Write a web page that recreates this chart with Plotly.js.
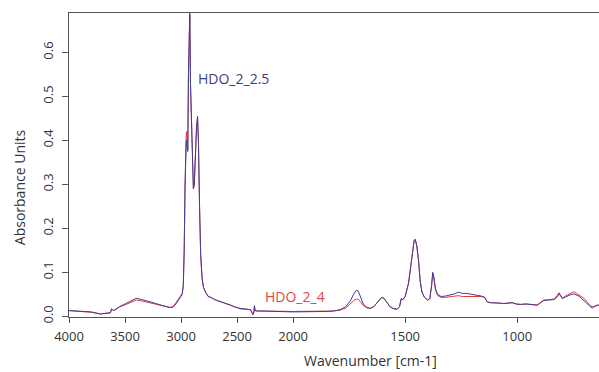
<!DOCTYPE html>
<html><head><meta charset="utf-8">
<script src="https://cdn.plot.ly/plotly-3.0.1.min.js"></script>
<style>html,body{margin:0;padding:0;background:#fff}#chart{width:599px;height:372px}</style>
</head><body><div id="chart"></div>
<script>
// Wavenumbers (cm-1), descending
const wavenumber = [4000,3950,3900,3850,3800,3750,3720,3700,3660,3630,3620,3605,3580,3550,3500,3450,3400,3350,3300,3250,3200,3150,3100,3070,3040,3010,2990,2980,2972,2965,2958,2952,2946,2940,2934,2928,2922,2916,2908,2898,2890,2882,2872,2862,2853,2845,2835,2825,2812,2800,2780,2757,2735,2720,2713,2690,2653,2600,2564,2520,2474,2420,2380,2365,2358,2350,2345,2340,2320,2280,2200,2100,2000,
1950,1900,1850,1820,1790,1765,1745,1730,1718,1710,1700,1686,1670,1656,1640,1620,1605,1595,1580,1566,1550,1536,1525,1518,1510,1500,1485,1475,1467,1460,1455,1448,1440,1433,1425,1415,1400,1390,1382,1377,1372,1365,1355,1340,1320,1300,1280,1262,1245,1225,1200,1180,1160,1145,1134,1120,1100,1080,1060,1040,1022,1005,985,960,940,925,911,895,881,860,836,822,814,806,799,785,770,757,747,735,725,712,702,690,675,665,655,642,635];
// HDO_2_2.5 (blue)
const hdo_2_2_5 = [0.013,0.012,0.012,0.011,0.010,0.007,0.005,0.006,0.007,0.008,0.017,0.013,0.016,0.022,0.028,0.035,0.041,0.038,0.035,0.031,0.027,0.024,0.020,0.021,0.030,0.042,0.050,0.07,0.15,0.30,0.38,0.40,0.385,0.375,0.55,0.65,0.695,0.53,0.45,0.35,0.29,0.30,0.38,0.43,0.455,0.40,0.25,0.14,0.085,0.066,0.054,0.045,0.043,0.042,0.040,0.037,0.033,0.029,0.026,0.021,0.018,0.016,0.015,0.007,0.004,0.010,0.024,0.013,0.012,0.012,0.011,0.010,0.010,
0.010,0.010,0.011,0.012,0.015,0.022,0.035,0.050,0.059,0.058,0.045,0.027,0.020,0.018,0.022,0.034,0.043,0.041,0.030,0.021,0.017,0.016,0.022,0.040,0.038,0.045,0.075,0.115,0.150,0.172,0.175,0.16,0.125,0.080,0.055,0.044,0.037,0.040,0.070,0.100,0.090,0.063,0.050,0.045,0.046,0.048,0.051,0.055,0.052,0.052,0.050,0.048,0.046,0.043,0.033,0.031,0.031,0.030,0.029,0.030,0.031,0.028,0.027,0.028,0.027,0.025,0.025,0.031,0.036,0.037,0.038,0.044,0.051,0.046,0.040,0.044,0.048,0.050,0.051,0.049,0.046,0.040,0.036,0.030,0.022,0.019,0.022,0.026,0.025];
// HDO_2_4 (red)
const hdo_2_4 = [0.013,0.012,0.011,0.011,0.009,0.007,0.005,0.006,0.007,0.008,0.017,0.013,0.016,0.021,0.026,0.032,0.037,0.035,0.032,0.028,0.025,0.022,0.020,0.022,0.032,0.044,0.052,0.07,0.15,0.30,0.39,0.42,0.40,0.38,0.55,0.645,0.685,0.53,0.45,0.35,0.29,0.30,0.38,0.43,0.45,0.40,0.25,0.14,0.085,0.066,0.054,0.045,0.043,0.042,0.040,0.037,0.033,0.029,0.026,0.021,0.017,0.016,0.015,0.007,0.004,0.010,0.024,0.013,0.012,0.012,0.012,0.011,0.011,
0.011,0.011,0.012,0.012,0.014,0.019,0.028,0.036,0.039,0.039,0.033,0.024,0.019,0.018,0.022,0.034,0.043,0.041,0.030,0.021,0.017,0.016,0.022,0.040,0.038,0.045,0.075,0.115,0.150,0.172,0.175,0.16,0.125,0.080,0.055,0.044,0.037,0.040,0.070,0.098,0.088,0.060,0.047,0.043,0.043,0.044,0.045,0.047,0.045,0.045,0.045,0.045,0.045,0.043,0.033,0.031,0.031,0.030,0.029,0.030,0.031,0.028,0.027,0.028,0.027,0.025,0.026,0.032,0.037,0.038,0.039,0.047,0.054,0.048,0.041,0.046,0.050,0.053,0.056,0.052,0.049,0.044,0.041,0.034,0.025,0.022,0.023,0.026,0.025];
const xTicksHigh = [4000,3500,3000,2500,2000];
const xTicksLow = [1500,1000];
const yTicks = [0.0,0.1,0.2,0.3,0.4,0.5,0.6];

const BLUE = '#3d3f98', RED = '#e8393f';
const FONT = 'Open Sans, Lato, sans-serif';
function seg(vals, hi){
  const x=[], y=[];
  wavenumber.forEach((w,i)=>{ if(hi ? w>=2000 : w<=2000){ x.push(w); y.push(vals[i]); } });
  return {x, y};
}
const traces = [];
[[hdo_2_4, RED],[hdo_2_2_5, BLUE]].forEach(([vals,col])=>{
  const a = seg(vals,true), b = seg(vals,false);
  traces.push({x:a.x,y:a.y,xaxis:'x',yaxis:'y',mode:'lines',line:{color:col,width:1},hoverinfo:'skip'});
  traces.push({x:b.x,y:b.y,xaxis:'x2',yaxis:'y',mode:'lines',line:{color:col,width:1},hoverinfo:'skip'});
});
const split = 224/529.7;
const axCommon = {showgrid:false, zeroline:false, showline:true, linecolor:'#555', linewidth:1, mirror:true,
  ticks:'outside', ticklen:5, tickcolor:'#555', tickfont:{family:FONT,size:13,color:'#333'}, ticklabelstandoff:2};
const layout = {
  width:599, height:372, margin:{l:69,r:0,t:13,b:55}, showlegend:false,
  paper_bgcolor:'#fff', plot_bgcolor:'#fff',
  xaxis: Object.assign({}, axCommon, {domain:[0,split], range:[4000,2000], tickmode:'array', tickvals:xTicksHigh, ticktext:xTicksHigh.map(String), anchor:'y'}),
  xaxis2: Object.assign({}, axCommon, {domain:[split,1], range:[2000,635], tickmode:'array', tickvals:xTicksLow, ticktext:xTicksLow.map(String), anchor:'y'}),
  yaxis: Object.assign({}, axCommon, {mirror:false, ticklen:6, ticklabelstandoff:4, range:[-0.0016,0.6898], tickmode:'array', tickvals:yTicks, ticktext:yTicks.map(v=>v.toFixed(1)), tickangle:-90, anchor:'x'}),
  annotations:[
    {text:'HDO_2_2.5', xref:'x', yref:'y', x:2867, y:0.54, xanchor:'left', yanchor:'middle', showarrow:false, font:{family:FONT,size:14,color:'#3d3d80'}},
    {text:'HDO_2_4', xref:'x', yref:'y', x:2268, y:0.0446, xanchor:'left', yanchor:'middle', showarrow:false, font:{family:FONT,size:14,color:'#e04848'}},
    {text:'Absorbance Units', xref:'paper', yref:'paper', x:0, y:0.427, xshift:-50, xanchor:'center', yanchor:'middle', textangle:-90, showarrow:false, font:{family:FONT,size:14,color:'#333'}},
    {text:'Wavenumber [cm-1]', xref:'paper', yref:'paper', x:0.5696, y:0, yshift:-43, xanchor:'center', yanchor:'middle', showarrow:false, font:{family:FONT,size:14,color:'#333'}}
  ]
};
Plotly.newPlot('chart', traces, layout, {displayModeBar:false, staticPlot:true});
</script></body></html>
